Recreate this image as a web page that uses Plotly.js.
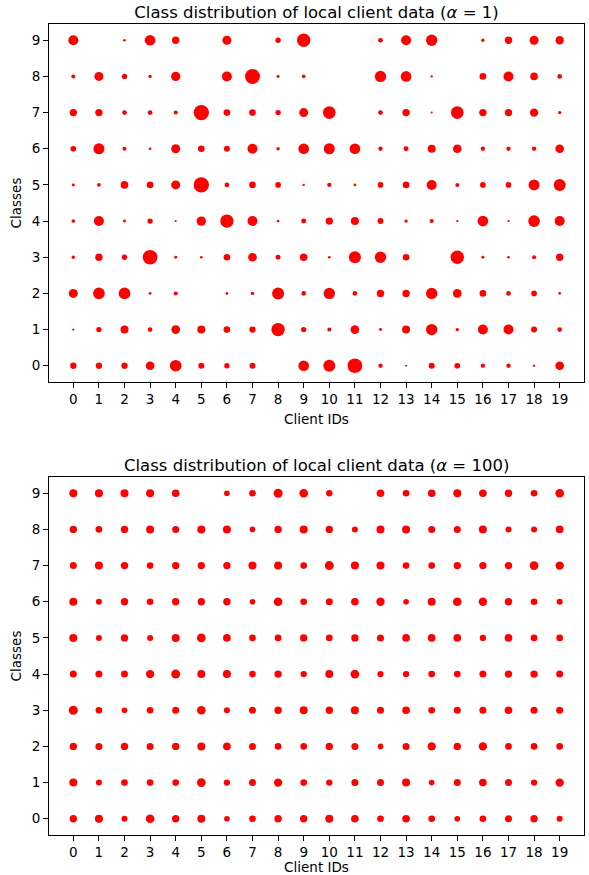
<!DOCTYPE html>
<html>
<head>
<meta charset="utf-8">
<script src="https://cdn.plot.ly/plotly-3.0.1.min.js"></script>
<style>html,body{margin:0;padding:0;background:#fff;}#chart{width:589px;height:875px;}</style>
</head>
<body>
<div id="chart"></div>
<script>
// Client IDs and classes
var clients = [0,1,2,3,4,5,6,7,8,9,10,11,12,13,14,15,16,17,18,19];
var classes = [0,1,2,3,4,5,6,7,8,9];
var clientTickLabels = ["0","1","2","3","4","5","6","7","8","9","10","11","12","13","14","15","16","17","18","19"];
var classTickLabels = ["0","1","2","3","4","5","6","7","8","9"];

// Estimated sample counts per class (row) for each client (column), alpha = 1
var alpha1Class0 = [90,90,90,169,306,81,64,81,0,256,324,484,42,9,81,72,42,42,12,169];
var alpha1Class1 = [12,64,144,49,169,144,100,90,400,64,36,169,20,144,289,25,225,225,81,49];
var alpha1Class2 = [182,306,306,16,36,0,16,25,324,49,289,49,121,121,289,169,100,49,72,16];
var alpha1Class3 = [25,121,64,484,20,16,100,169,56,132,16,324,289,100,0,400,20,16,36,121];
var alpha1Class4 = [30,225,20,64,9,196,400,225,16,56,121,144,81,25,36,12,256,12,306,225];
var alpha1Class5 = [20,30,132,100,182,529,49,100,72,12,42,16,72,100,225,36,72,72,272,324];
var alpha1Class6 = [72,272,36,16,182,100,81,225,25,256,272,256,42,56,144,169,42,42,42,169];
var alpha1Class7 = [121,121,49,49,36,529,100,100,64,182,361,0,49,121,9,361,121,121,156,25];
var alpha1Class8 = [36,182,64,25,196,0,225,506,20,30,0,0,289,256,12,0,100,225,132,49];
var alpha1Class9 = [225,0,16,256,121,0,182,0,64,400,0,0,49,225,289,0,25,121,182,156];

// Estimated sample counts, alpha = 100
var alpha100Class0 = [121,144,81,169,121,144,72,100,121,121,144,132,100,132,100,72,100,110,121,81];
var alpha100Class1 = [144,81,100,100,100,169,90,110,156,100,90,110,110,144,72,110,132,110,90,156];
var alpha100Class2 = [121,110,121,110,121,144,132,110,100,100,121,110,72,110,156,121,156,100,100,100];
var alpha100Class3 = [182,100,72,100,110,169,81,110,121,144,121,144,110,132,100,110,110,132,110,110];
var alpha100Class4 = [110,110,110,156,182,144,144,100,121,90,144,169,90,90,100,100,110,121,121,110];
var alpha100Class5 = [144,81,121,81,144,169,132,100,100,121,100,121,110,132,132,132,90,132,100,100];
var alpha100Class6 = [144,81,121,100,121,121,121,72,169,100,110,132,156,72,144,169,156,121,100,81];
var alpha100Class7 = [110,144,121,100,121,121,121,144,144,100,182,144,144,100,100,121,121,121,169,156];
var alpha100Class8 = [121,100,121,144,110,144,144,72,121,144,121,81,144,144,110,110,144,81,81,132];
var alpha100Class9 = [144,144,144,144,132,0,72,100,182,169,90,0,132,100,132,144,132,121,100,169];

var alpha1Rows = [alpha1Class0,alpha1Class1,alpha1Class2,alpha1Class3,alpha1Class4,alpha1Class5,alpha1Class6,alpha1Class7,alpha1Class8,alpha1Class9];
var alpha100Rows = [alpha100Class0,alpha100Class1,alpha100Class2,alpha100Class3,alpha100Class4,alpha100Class5,alpha100Class6,alpha100Class7,alpha100Class8,alpha100Class9];

function buildTrace(rows, xa, ya) {
  var xs = [], ys = [], ss = [];
  for (var c = 0; c < classes.length; c++) {
    for (var k = 0; k < clients.length; k++) {
      var v = rows[c][k];
      if (v > 0) { xs.push(clients[k]); ys.push(classes[c]); ss.push(v); }
    }
  }
  return {
    type: 'scatter', mode: 'markers', x: xs, y: ys, xaxis: xa, yaxis: ya,
    marker: {color: '#ff0000', opacity: 1, size: ss, sizemode: 'area', sizeref: 4.5, line: {width: 0}},
    hoverinfo: 'x+y', showlegend: false
  };
}

var font = {family: 'DejaVu Sans, sans-serif', size: 13.5, color: '#000'};
function xAxis(anchor) {
  return {
    domain: [49/589, 584/589], anchor: anchor, range: [-0.95, 19.95],
    tickmode: 'array', tickvals: clients, ticktext: clientTickLabels,
    ticks: 'outside', ticklen: 5, tickwidth: 1, tickcolor: '#000',
    showline: true, mirror: true, linecolor: '#000', linewidth: 1,
    showgrid: false, zeroline: false, tickfont: font,
    title: {text: 'Client IDs', font: font, standoff: 8}
  };
}
function yAxis(domain, anchor) {
  return {
    domain: domain, anchor: anchor, range: [-0.45, 9.45],
    tickmode: 'array', tickvals: classes, ticktext: classTickLabels,
    ticks: 'outside', ticklen: 5, tickwidth: 1, tickcolor: '#000',
    showline: true, mirror: true, linecolor: '#000', linewidth: 1,
    showgrid: false, zeroline: false, tickfont: font,
    title: {text: 'Classes', font: font, standoff: 6}
  };
}

var data = [buildTrace(alpha1Rows, 'x', 'y'), buildTrace(alpha100Rows, 'x2', 'y2')];

var layout = {
  width: 589, height: 875,
  margin: {l: 0, r: 0, t: 0, b: 0},
  paper_bgcolor: '#fff', plot_bgcolor: '#fff',
  font: font,
  title: {text: 'Class distribution of local client data (<i>α</i> = 1)',
          font: {family: 'DejaVu Sans, sans-serif', size: 16.5, color: '#000'},
          x: 316.5/589, xanchor: 'center', xref: 'paper', y: 1 - 12/875, yanchor: 'middle', yref: 'container'},
  xaxis: xAxis('y'),
  yaxis: yAxis([(875-382)/875, (875-24)/875], 'x'),
  xaxis2: xAxis('y2'),
  yaxis2: yAxis([(875-835)/875, (875-477)/875], 'x2'),
  annotations: [{
    text: 'Class distribution of local client data (<i>α</i> = 100)',
    font: {family: 'DejaVu Sans, sans-serif', size: 16.5, color: '#000'},
    xref: 'paper', yref: 'paper', x: 316.5/589, y: 1 - 465/875,
    xanchor: 'center', yanchor: 'middle', showarrow: false
  }]
};

Plotly.newPlot('chart', data, layout, {staticPlot: true, displayModeBar: false});
</script>
</body>
</html>
